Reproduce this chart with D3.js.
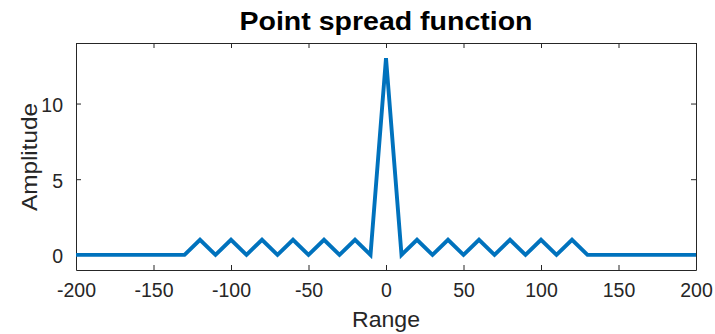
<!DOCTYPE html>
<html><head><meta charset="utf-8">
<script src="https://cdn.jsdelivr.net/npm/d3@7"></script>
<style>body{margin:0;background:#fff;} text{font-family:"Liberation Sans",Arial,Helvetica,sans-serif;}</style>
</head><body>
<svg id="c" width="715" height="334"></svg>
<script>
const rangeX = [-200,-190,-180,-170,-160,-150,-140,-130,-120,-110,-100,-90,-80,-70,-60,-50,-40,-30,-20,-10,0,10,20,30,40,50,60,70,80,90,100,110,120,130,140,150,160,170,180,190,200];
const amplitude = [0,0,0,0,0,0,0,0,1,0,1,0,1,0,1,0,1,0,1,0,13,0,1,0,1,0,1,0,1,0,1,0,1,0,0,0,0,0,0,0,0];
const xTicks = [-200,-150,-100,-50,0,50,100,150,200];
const yTicks = [0,5,10];
const title = "Point spread function";
const xLabel = "Range";
const yLabel = "Amplitude";

const svg = d3.select("#c");
const L=76, R=696, T=43, B=270;
const x = d3.scaleLinear().domain([-200,200]).range([L,R]);
const y = d3.scaleLinear().domain([-1,14]).range([B,T]);
const axCol = "#262626";
const tl = 5;
const fmt = d => String(d);

const xb = svg.append("g").attr("transform",`translate(0,${B})`)
  .call(d3.axisBottom(x).tickValues(xTicks).tickSizeInner(-tl).tickSizeOuter(0).tickPadding(13).tickFormat(fmt));
const xt = svg.append("g").attr("transform",`translate(0,${T})`)
  .call(d3.axisTop(x).tickValues(xTicks).tickSizeInner(-tl).tickSizeOuter(0).tickFormat(""));
const yl = svg.append("g").attr("transform",`translate(${L},0)`)
  .call(d3.axisLeft(y).tickValues(yTicks).tickSizeInner(-tl).tickSizeOuter(0).tickPadding(13).tickFormat(fmt));
const yr = svg.append("g").attr("transform",`translate(${R},0)`)
  .call(d3.axisRight(y).tickValues(yTicks).tickSizeInner(-tl).tickSizeOuter(0).tickFormat(""));
[xb,xt,yl,yr].forEach(g=>{
  g.select(".domain").attr("stroke",axCol).attr("stroke-width",1);
  g.selectAll(".tick line").attr("stroke",axCol).attr("stroke-width",1);
  g.selectAll(".tick text").attr("fill",axCol).style("font-size","19.5px");
});
xb.selectAll(".tick text").attr("dy","0.71em");
yl.selectAll(".tick text").attr("dy","0.4em");

svg.append("path")
  .datum(rangeX.map((d,i)=>[d,amplitude[i]]))
  .attr("fill","none").attr("stroke","#0072BD").attr("stroke-width",3.9)
  .attr("stroke-linejoin","miter").attr("stroke-miterlimit",10)
  .attr("d", d3.line().x(d=>x(d[0])).y(d=>y(d[1])));

svg.append("text").attr("x",(L+R)/2).attr("y",30).attr("text-anchor","middle")
  .attr("textLength",293).attr("lengthAdjust","spacingAndGlyphs")
  .style("font-size","26px").style("font-weight","bold").attr("fill","#000").text(title);
svg.append("text").attr("x",(L+R)/2).attr("y",327).attr("text-anchor","middle")
  .attr("textLength",68).attr("lengthAdjust","spacingAndGlyphs")
  .style("font-size","21.5px").attr("fill",axCol).text(xLabel);
svg.append("text").attr("transform",`translate(36.5,${(T+B)/2+0.5}) rotate(-90)`).attr("text-anchor","middle")
  .attr("textLength",108).attr("lengthAdjust","spacingAndGlyphs")
  .style("font-size","21.5px").attr("fill",axCol).text(yLabel);
</script>
</body></html>
